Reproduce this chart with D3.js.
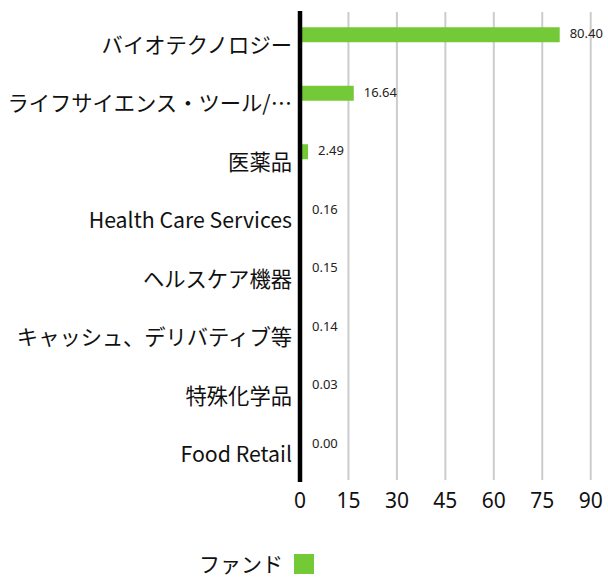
<!DOCTYPE html>
<html><head><meta charset="utf-8">
<script src="https://cdn.jsdelivr.net/npm/d3@7/dist/d3.min.js"></script>
<style>body{margin:0;background:#fff;} text{font-family:"Noto Sans CJK JP","Noto Sans",sans-serif;}</style>
</head><body><svg id="c" width="608" height="578"></svg>
<script>
const categories = ["バイオテクノロジー","ライフサイエンス・ツール/…","医薬品","Health Care Services","ヘルスケア機器","キャッシュ、デリバティブ等","特殊化学品","Food Retail"];
const values = [80.40,16.64,2.49,0.16,0.15,0.14,0.03,0.00];
const ticks = [0,15,30,45,60,75,90];
const seriesName = "ファンド";
const color = "#73c936";

const svg = d3.select("#c");
const x = d3.scaleLinear().domain([0,90]).range([300,590.7]);
const y = d3.scaleBand().domain(categories).range([13,481]);

// gridlines
svg.append("g").selectAll("line").data(ticks.slice(1)).join("line")
  .attr("x1",d=>x(d)).attr("x2",d=>x(d)).attr("y1",12).attr("y2",480)
  .attr("stroke","#cccccc").attr("stroke-width",2);

// bars
const barH = 15;
svg.append("g").selectAll("rect").data(values).join("rect")
  .attr("x",x(0)).attr("y",(d,i)=>y(categories[i])+y.bandwidth()/2-barH)
  .attr("width",d=>x(d)-x(0)).attr("height",barH).attr("fill",color);

// value labels
svg.append("g").selectAll("text").data(values).join("text")
  .attr("x",d=>Math.max(x(d),x(0)+2)+10).attr("y",(d,i)=>y(categories[i])+y.bandwidth()/2-barH/2-1.5)
  .attr("dominant-baseline","central").attr("font-size",13).attr("fill","#222")
  .style("font-family","'Noto Sans',sans-serif")
  .text(d=>d.toFixed(2));

// category labels
svg.append("g").selectAll("text").data(categories).join("text")
  .attr("x",292).attr("y",d=>y(d)+y.bandwidth()/2+1)
  .attr("text-anchor","end").attr("dominant-baseline","central")
  .attr("font-size",21.3).attr("fill","#111").text(d=>d);

// y axis line
svg.append("line").attr("x1",x(0)).attr("x2",x(0)).attr("y1",11).attr("y2",482)
  .attr("stroke","#000").attr("stroke-width",4.5);

// x tick labels
svg.append("g").selectAll("text").data(ticks).join("text")
  .attr("x",d=>x(d)).attr("y",500).attr("text-anchor","middle").attr("dominant-baseline","central")
  .attr("font-size",21).attr("fill","#111").style("font-family","'Noto Sans',sans-serif").text(d=>d);

// legend
svg.append("text").attr("x",283).attr("y",572).attr("text-anchor","end")
  .attr("font-size",21).attr("fill","#111").text(seriesName);
svg.append("rect").attr("x",294).attr("y",554).attr("width",20).attr("height",20).attr("fill",color);
</script></body></html>
